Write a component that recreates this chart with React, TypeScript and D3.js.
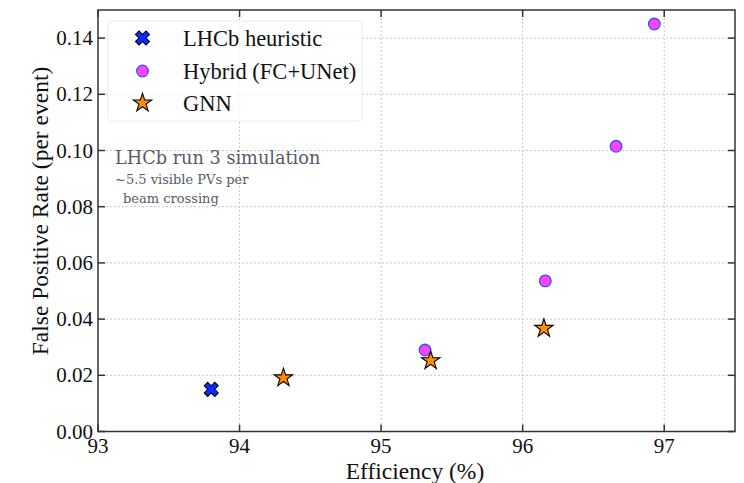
import React, { useEffect, useRef } from 'react';
import * as d3 from 'd3';

// Data
const lhcbEff = [93.8];
const lhcbFpr = [0.015];
const hybridEff = [95.31, 96.16, 96.66, 96.93];
const hybridFpr = [0.029, 0.0536, 0.1015, 0.145];
const gnnEff = [94.31, 95.35, 96.15];
const gnnFpr = [0.0191, 0.0252, 0.0367];
const xTicks = [93, 94, 95, 96, 97];
const yTicks = [0, 0.02, 0.04, 0.06, 0.08, 0.1, 0.12, 0.14];
const legendLabels = ['LHCb heuristic', 'Hybrid (FC+UNet)', 'GNN'];

const W = 744;
const H = 483;

export default function App() {
  const ref = useRef<SVGSVGElement>(null);

  useEffect(() => {
    const svg = d3.select(ref.current);
    svg.selectAll('*').remove();

    const left = 98, right = 735, top = 10, bottom = 431.5;
    const x = d3.scaleLinear().domain([93, 97.5]).range([left, right]);
    const y = d3.scaleLinear().domain([0, 0.15]).range([bottom, top]);
    const serif = "'Liberation Serif', 'Times New Roman', serif";
    const axisColor = '#333';

    // grid
    const grid = svg.append('g').attr('stroke', '#c8c8c8').attr('stroke-dasharray', '2,2').attr('stroke-width', 1);
    xTicks.slice(1).forEach((t) => {
      grid.append('line').attr('x1', x(t)).attr('x2', x(t)).attr('y1', top).attr('y2', bottom);
    });
    yTicks.slice(1).forEach((t) => {
      grid.append('line').attr('x1', left).attr('x2', right).attr('y1', y(t)).attr('y2', y(t));
    });

    // inward ticks on all four sides
    const tickLen = 7;
    const ticks = svg.append('g').attr('stroke', axisColor).attr('stroke-width', 1.5);
    xTicks.forEach((t) => {
      ticks.append('line').attr('x1', x(t)).attr('x2', x(t)).attr('y1', bottom).attr('y2', bottom - tickLen);
      ticks.append('line').attr('x1', x(t)).attr('x2', x(t)).attr('y1', top).attr('y2', top + tickLen);
    });
    yTicks.forEach((t) => {
      ticks.append('line').attr('x1', left).attr('x2', left + tickLen).attr('y1', y(t)).attr('y2', y(t));
      ticks.append('line').attr('x1', right).attr('x2', right - tickLen).attr('y1', y(t)).attr('y2', y(t));
    });

    // frame
    svg.append('rect')
      .attr('x', left).attr('y', top)
      .attr('width', right - left).attr('height', bottom - top)
      .attr('fill', 'none').attr('stroke', axisColor).attr('stroke-width', 1.5);

    // tick labels
    svg.append('g').selectAll('text').data(xTicks).enter().append('text')
      .attr('x', (d) => x(d)).attr('y', bottom + 21)
      .attr('text-anchor', 'middle')
      .style('font-family', serif).style('font-size', '21px').attr('fill', '#111')
      .text((d) => String(d));
    svg.append('g').selectAll('text').data(yTicks).enter().append('text')
      .attr('x', left - 5).attr('y', (d) => y(d) + 7)
      .attr('text-anchor', 'end')
      .style('font-family', serif).style('font-size', '21px').attr('fill', '#111')
      .text((d) => d.toFixed(2));

    // axis labels
    svg.append('text')
      .attr('x', 415).attr('y', 479)
      .attr('text-anchor', 'middle')
      .style('font-family', serif).style('font-size', '23.5px').attr('fill', '#111')
      .text('Efficiency (%)');
    svg.append('text')
      .attr('transform', 'translate(40,211) rotate(-90)')
      .attr('text-anchor', 'middle')
      .attr('dominant-baseline', 'central')
      .style('font-family', serif).style('font-size', '23.5px').attr('fill', '#111')
      .text('False Positive Rate (per event)');

    // marker shapes
    const xMark = d3.symbol().type(d3.symbolCross).size(125)();
    const circleMark = d3.symbol().type(d3.symbolCircle).size(105)();
    const starMark = d3.symbol().type(d3.symbolStar).size(105)();

    const drawX = (g: any, cx: number, cy: number) =>
      g.append('path').attr('d', xMark)
        .attr('transform', `translate(${cx},${cy}) rotate(45)`)
        .attr('fill', '#0a2cff').attr('stroke', '#000').attr('stroke-width', 1);
    const drawCircle = (g: any, cx: number, cy: number) =>
      g.append('path').attr('d', circleMark)
        .attr('transform', `translate(${cx},${cy})`)
        .attr('fill', '#ff44ff').attr('stroke', '#3b4cff').attr('stroke-width', 1.3);
    const drawStar = (g: any, cx: number, cy: number) =>
      g.append('path').attr('d', starMark)
        .attr('transform', `translate(${cx},${cy})`)
        .attr('fill', '#ff8c0a').attr('stroke', '#000').attr('stroke-width', 1.1);

    const pts = svg.append('g');
    lhcbEff.forEach((e, i) => drawX(pts, x(e), y(lhcbFpr[i])));
    hybridEff.forEach((e, i) => drawCircle(pts, x(e), y(hybridFpr[i])));
    gnnEff.forEach((e, i) => drawStar(pts, x(e), y(gnnFpr[i])));

    // legend
    const lg = svg.append('g');
    lg.append('rect')
      .attr('x', 108).attr('y', 21).attr('width', 254).attr('height', 100).attr('rx', 4)
      .attr('fill', 'white').attr('fill-opacity', 0.8)
      .attr('stroke', '#ececec').attr('stroke-width', 1);
    const rowY = [38, 71, 103];
    drawX(lg, 142.5, rowY[0]);
    drawCircle(lg, 142.5, rowY[1]);
    drawStar(lg, 142.5, rowY[2]);
    legendLabels.forEach((l, i) => {
      lg.append('text')
        .attr('x', 183).attr('y', rowY[i] + 7.5)
        .style('font-family', serif).style('font-size', '22.5px').attr('fill', '#111')
        .text(l);
    });

    // annotation
    const note = svg.append('g').style('font-family', "'DejaVu Serif', serif").attr('fill', '#555b66');
    note.append('text').attr('x', 115).attr('y', 164).style('font-size', '17.7px').text('LHCb run 3 simulation');
    note.append('text').attr('x', 115).attr('y', 184).style('font-size', '13px').text('~5.5 visible PVs per');
    note.append('text').attr('x', 123).attr('y', 203).style('font-size', '13px').text('beam crossing');
  }, []);

  return (
    <svg
      ref={ref}
      width={W}
      height={H}
      style={{ position: 'absolute', left: 0, top: 0, background: 'white' }}
    />
  );
}
